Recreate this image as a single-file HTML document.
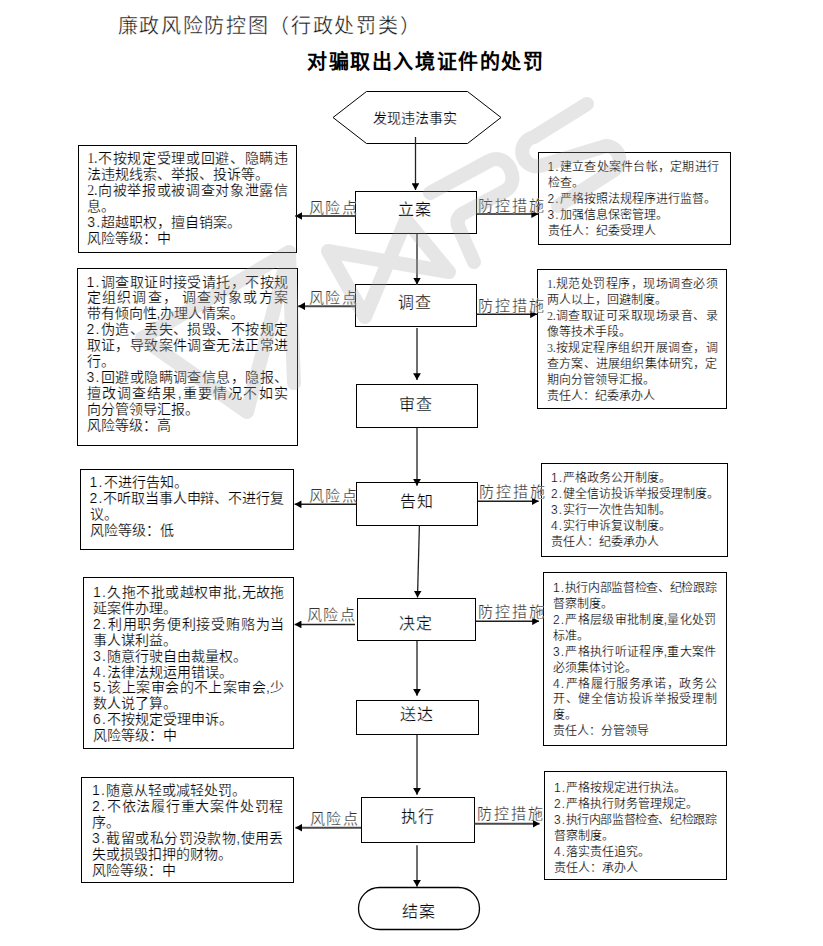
<!DOCTYPE html>
<html lang="zh-CN">
<head>
<meta charset="utf-8">
<style>
html,body{margin:0;padding:0;background:#fff;}
body{width:823px;height:946px;position:relative;overflow:hidden;font-family:"Liberation Sans",sans-serif;color:#000;}
.t{position:absolute;white-space:nowrap;}
.j{display:flex;justify-content:space-between;}
.j>span{min-width:0;}
.n{letter-spacing:0.083em;}
.nt{font-family:"Liberation Serif",serif;letter-spacing:-0.3px;}
.h1{left:117.5px;top:13.3px;font-size:20px;line-height:26px;letter-spacing:1.7px;color:#111;-webkit-text-stroke:0.35px #fff;}
.h2{left:307px;top:49px;font-size:20px;line-height:26px;font-weight:bold;letter-spacing:1.6px;}
.c{font-size:16px;line-height:20px;letter-spacing:1px;-webkit-text-stroke:0.25px #fff;}
.hx{font-size:14px;line-height:18px;-webkit-text-stroke:0.2px #fff;}
.L{font-size:14px;line-height:15.9px;-webkit-text-stroke:0.2px #fff;}
.R{font-size:12px;line-height:15.95px;-webkit-text-stroke:0.2px #fff;}
.lab{font-size:15px;line-height:18px;color:#333;letter-spacing:1.2px;-webkit-text-stroke:0.25px #fff;}
.lab.r{letter-spacing:1.9px;}
svg{position:absolute;left:0;top:0;}
</style>
</head>
<body>
<!-- MAIN -->
<svg width="823" height="946" viewBox="0 0 823 946">
<defs><marker id="ah" viewBox="0 0 7 8" refX="7" refY="4" markerWidth="7" markerHeight="7.8" markerUnits="userSpaceOnUse" orient="auto"><path d="M0,0 L7,4 L0,8 z" fill="#000"/></marker></defs>
<g fill="none" stroke="#000" stroke-width="1">
<polygon points="333,117.5 366.5,91.5 467.5,91.5 501,117.5 467.5,143.5 366.5,143.5"/>
<rect x="355.5" y="191.5" width="121" height="42"/>
<rect x="355.5" y="284.5" width="121" height="42"/>
<rect x="356.5" y="384.5" width="121" height="43"/>
<rect x="356.5" y="482.5" width="121" height="43"/>
<rect x="357.5" y="598.5" width="118" height="42"/>
<rect x="356.5" y="700.5" width="122" height="34"/>
<rect x="361.5" y="797.5" width="113" height="45"/>
<rect x="78.5" y="145.5" width="218" height="107"/>
<rect x="77.5" y="268.5" width="220" height="177"/>
<rect x="80.5" y="469.5" width="213" height="80"/>
<rect x="83.5" y="577.5" width="210" height="171"/>
<rect x="81.5" y="777.5" width="212" height="105"/>
<rect x="538.5" y="152.5" width="192" height="92"/>
<rect x="537.5" y="269.5" width="189" height="139"/>
<rect x="541.5" y="463.5" width="186" height="93"/>
<rect x="543.5" y="572.5" width="183" height="173"/>
<rect x="544.5" y="771.5" width="182" height="108"/>
<rect x="358.5" y="887.5" width="121" height="42" rx="21" ry="21" stroke-width="1.3"/>
</g>
<g fill="none">
<line x1="415.5" y1="137" x2="415.5" y2="190" stroke="#222" stroke-width="1.3" marker-end="url(#ah)"/>
<line x1="417" y1="234" x2="417" y2="284.5" stroke="#6e6e6e" stroke-width="2" marker-end="url(#ah)"/>
<line x1="417" y1="328" x2="417" y2="380" stroke="#6e6e6e" stroke-width="2" marker-end="url(#ah)"/>
<line x1="417" y1="428" x2="417" y2="485.8" stroke="#6e6e6e" stroke-width="2" marker-end="url(#ah)"/>
<line x1="419.4" y1="525" x2="417.5" y2="597.6" stroke="#222" stroke-width="1.3" marker-end="url(#ah)"/>
<line x1="417" y1="641" x2="417" y2="695.8" stroke="#6e6e6e" stroke-width="2" marker-end="url(#ah)"/>
<line x1="417" y1="735" x2="417" y2="794.8" stroke="#6e6e6e" stroke-width="2" marker-end="url(#ah)"/>
<line x1="417" y1="845.3" x2="417" y2="886.8" stroke="#6e6e6e" stroke-width="2" marker-end="url(#ah)"/>
<line x1="355.5" y1="216" x2="295.3" y2="216" stroke="#484848" stroke-width="2" marker-end="url(#ah)"/>
<line x1="355.5" y1="306.2" x2="298.2" y2="306.2" stroke="#484848" stroke-width="2" marker-end="url(#ah)"/>
<line x1="356.5" y1="504.3" x2="294.6" y2="504.3" stroke="#1e1e1e" stroke-width="1.5" marker-end="url(#ah)"/>
<line x1="355" y1="624.4" x2="294.6" y2="624.4" stroke="#1e1e1e" stroke-width="1.5" marker-end="url(#ah)"/>
<line x1="361" y1="827.7" x2="295.4" y2="827.7" stroke="#484848" stroke-width="2" marker-end="url(#ah)"/>
<line x1="476.5" y1="214.1" x2="538.2" y2="214.1" stroke="#1e1e1e" stroke-width="1.5" marker-end="url(#ah)"/>
<line x1="476.5" y1="314.3" x2="537" y2="314.3" stroke="#1e1e1e" stroke-width="1.5" marker-end="url(#ah)"/>
<line x1="477.5" y1="501.2" x2="538.6" y2="501.2" stroke="#1e1e1e" stroke-width="1.5" marker-end="url(#ah)"/>
<line x1="475.5" y1="621.2" x2="539" y2="621.2" stroke="#1e1e1e" stroke-width="1.5" marker-end="url(#ah)"/>
<line x1="474.5" y1="823.8" x2="539.6" y2="823.8" stroke="#484848" stroke-width="2" marker-end="url(#ah)"/>
</g>
</svg>
<!-- /MAIN -->

<div class="t h1">廉政风险防控图（行政处罚类）</div>
<div class="t h2">对骗取出入境证件的处罚</div>

<div class="t hx" style="left:372.5px;top:109px;">发现违法事实</div>
<div class="t c" style="left:397.5px;top:200px;">立案</div>
<div class="t c" style="left:397.5px;top:292.5px;">调查</div>
<div class="t c" style="left:398.5px;top:394.5px;">审查</div>
<div class="t c" style="left:399.5px;top:491.5px;">告知</div>
<div class="t c" style="left:398.5px;top:613.5px;">决定</div>
<div class="t c" style="left:399.5px;top:704.5px;">送达</div>
<div class="t c" style="left:400.5px;top:806.5px;">执行</div>
<div class="t c" style="left:401.5px;top:901.5px;">结案</div>

<!-- labels -->
<div class="t lab" style="left:309.2px;top:198.7px;">风险点</div>
<div class="t lab" style="left:309.2px;top:288.7px;">风险点</div>
<div class="t lab" style="left:309.2px;top:487px;">风险点</div>
<div class="t lab" style="left:307.2px;top:606px;">风险点</div>
<div class="t lab" style="left:310.2px;top:810px;">风险点</div>
<div class="t lab r" style="left:478px;top:196.7px;">防控措施</div>
<div class="t lab r" style="left:478px;top:296.7px;">防控措施</div>
<div class="t lab r" style="left:479px;top:483px;">防控措施</div>
<div class="t lab r" style="left:478px;top:603px;">防控措施</div>
<div class="t lab r" style="left:477px;top:805px;">防控措施</div>

<!-- TEXTS -->
<div class="t L" style="left:87.3px;top:151px;width:200.7px;">
<div class="j"><span class="nt">1.</span><span>不</span><span>按</span><span>规</span><span>定</span><span>受</span><span>理</span><span>或</span><span>回</span><span>避</span><span>、</span><span>隐</span><span>瞒</span><span>违</span></div>
<div>法违规线索、举报、投诉等。</div>
<div class="j"><span class="nt">2.</span><span>向</span><span>被</span><span>举</span><span>报</span><span>或</span><span>被</span><span>调</span><span>查</span><span>对</span><span>象</span><span>泄</span><span>露</span><span>信</span></div>
<div>息。</div>
<div><span class="n">3.</span>超越职权，擅自销案。</div>
<div>风险等级：中</div>
</div>
<div class="t L" style="left:86.5px;top:274.5px;width:201.5px;">
<div class="j"><span class="n">1.</span><span>调</span><span>查</span><span>取</span><span>证</span><span>时</span><span>接</span><span>受</span><span>请</span><span>托</span><span>，</span><span>不</span><span>按</span><span>规</span></div>
<div class="j"><span>定</span><span>组</span><span>织</span><span>调</span><span>查</span><span>，&nbsp;</span><span>调</span><span>查</span><span>对</span><span>象</span><span>或</span><span>方</span><span>案</span></div>
<div>带有倾向性,办理人情案。</div>
<div class="j"><span class="n">2.</span><span>伪</span><span>造</span><span>、</span><span>丢</span><span>失</span><span>、</span><span>损</span><span>毁</span><span>、</span><span>不</span><span>按</span><span>规</span><span>定</span></div>
<div class="j"><span>取</span><span>证</span><span>，</span><span>导</span><span>致</span><span>案</span><span>件</span><span>调</span><span>查</span><span>无</span><span>法</span><span>正</span><span>常</span><span>进</span></div>
<div>行。</div>
<div class="j"><span class="n">3.</span><span>回</span><span>避</span><span>或</span><span>隐</span><span>瞒</span><span>调</span><span>查</span><span>信</span><span>息</span><span>，</span><span>隐</span><span>报</span><span>、</span></div>
<div class="j"><span>擅</span><span>改</span><span>调</span><span>查</span><span>结</span><span>果</span><span>,</span><span>重</span><span>要</span><span>情</span><span>况</span><span>不</span><span>如</span><span>实</span></div>
<div>向分管领导汇报。</div>
<div>风险等级：高</div>
</div>
<div class="t L" style="left:89.5px;top:475px;width:194px;">
<div><span class="n">1.</span>不进行告知。</div>
<div class="j"><span class="n">2.</span><span>不</span><span>听</span><span>取</span><span>当</span><span>事</span><span>人</span><span>申</span><span>辩</span><span>、</span><span>不</span><span>进</span><span>行</span><span>复</span></div>
<div>议。</div>
<div>风险等级：低</div>
</div>
<div class="t L" style="left:93px;top:585px;width:191.5px;">
<div class="j"><span class="n">1.</span><span>久</span><span>拖</span><span>不</span><span>批</span><span>或</span><span>越</span><span>权</span><span>审</span><span>批</span><span>,</span><span>无</span><span>故</span><span>拖</span></div>
<div>延案件办理。</div>
<div class="j"><span class="n">2.</span><span>利</span><span>用</span><span>职</span><span>务</span><span>便</span><span>利</span><span>接</span><span>受</span><span>贿</span><span>赂</span><span>为</span><span>当</span></div>
<div>事人谋利益。</div>
<div><span class="n">3.</span>随意行驶自由裁量权。</div>
<div><span class="n">4.</span>法律法规运用错误。</div>
<div class="j"><span class="n">5.</span><span>该</span><span>上</span><span>案</span><span>审</span><span>会</span><span>的</span><span>不</span><span>上</span><span>案</span><span>审</span><span>会</span><span>,</span><span>少</span></div>
<div>数人说了算。</div>
<div><span class="n">6.</span>不按规定受理申诉。</div>
<div>风险等级：中</div>
</div>
<div class="t L" style="left:92px;top:783px;width:191.5px;">
<div><span class="n">1.</span>随意从轻或减轻处罚。</div>
<div class="j"><span class="n">2.</span><span>不</span><span>依</span><span>法</span><span>履</span><span>行</span><span>重</span><span>大</span><span>案</span><span>件</span><span>处</span><span>罚</span><span>程</span></div>
<div>序。</div>
<div class="j"><span class="n">3.</span><span>截</span><span>留</span><span>或</span><span>私</span><span>分</span><span>罚</span><span>没</span><span>款</span><span>物</span><span>,</span><span>使</span><span>用</span><span>丢</span></div>
<div>失或损毁扣押的财物。</div>
<div>风险等级：中</div>
</div>
<div class="t R" style="left:547.5px;top:160px;width:171.5px;">
<div class="j"><span class="n">1.</span><span>建</span><span>立</span><span>查</span><span>处</span><span>案</span><span>件</span><span>台</span><span>帐</span><span>，</span><span>定</span><span>期</span><span>进</span><span>行</span></div>
<div>检查。</div>
<div><span class="n">2.</span>严格按照法规程序进行监督。</div>
<div><span class="n">3.</span>加强信息保密管理。</div>
<div>责任人：纪委受理人</div>
</div>
<div class="t R" style="left:547px;top:277.3px;width:170.5px;">
<div class="j"><span class="nt">1.</span><span>规</span><span>范</span><span>处</span><span>罚</span><span>程</span><span>序</span><span>，</span><span>现</span><span>场</span><span>调</span><span>查</span><span>必</span><span>须</span></div>
<div>两人以上，回避制度。</div>
<div class="j"><span class="nt">2.</span><span>调</span><span>查</span><span>取</span><span>证</span><span>可</span><span>采</span><span>取</span><span>现</span><span>场</span><span>录</span><span>音</span><span>、</span><span>录</span></div>
<div>像等技术手段。</div>
<div class="j"><span class="nt">3.</span><span>按</span><span>规</span><span>定</span><span>程</span><span>序</span><span>组</span><span>织</span><span>开</span><span>展</span><span>调</span><span>查</span><span>，</span><span>调</span></div>
<div class="j"><span>查</span><span>方</span><span>案</span><span>、</span><span>进</span><span>展</span><span>组</span><span>织</span><span>集</span><span>体</span><span>研</span><span>究</span><span>，</span><span>定</span></div>
<div>期向分管领导汇报。</div>
<div>责任人：纪委承办人</div>
</div>
<div class="t R" style="left:551px;top:471px;width:166.5px;">
<div><span class="n">1.</span>严格政务公开制度。</div>
<div><span class="n">2.</span>健全信访投诉举报受理制度。</div>
<div><span class="n">3.</span>实行一次性告知制。</div>
<div><span class="n">4.</span>实行申诉复议制度。</div>
<div>责任人：纪委承办人</div>
</div>
<div class="t R" style="left:553px;top:580.8px;width:163.5px;">
<div class="j"><span class="n">1.</span><span>执</span><span>行</span><span>内</span><span>部</span><span>监</span><span>督</span><span>检</span><span>查</span><span>、</span><span>纪</span><span>检</span><span>跟</span><span>踪</span></div>
<div>督察制度。</div>
<div class="j"><span class="n">2.</span><span>严</span><span>格</span><span>层</span><span>级</span><span>审</span><span>批</span><span>制</span><span>度</span><span>,</span><span>量</span><span>化</span><span>处</span><span>罚</span></div>
<div>标准。</div>
<div class="j"><span class="n">3.</span><span>严</span><span>格</span><span>执</span><span>行</span><span>听</span><span>证</span><span>程</span><span>序</span><span>,</span><span>重</span><span>大</span><span>案</span><span>件</span></div>
<div>必须集体讨论。</div>
<div class="j"><span class="n">4.</span><span>严</span><span>格</span><span>履</span><span>行</span><span>服</span><span>务</span><span>承</span><span>诺</span><span>，</span><span>政</span><span>务</span><span>公</span></div>
<div class="j"><span>开</span><span>、</span><span>健</span><span>全</span><span>信</span><span>访</span><span>投</span><span>诉</span><span>举</span><span>报</span><span>受</span><span>理</span><span>制</span></div>
<div>度。</div>
<div>责任人：分管领导</div>
</div>
<div class="t R" style="left:554px;top:780.8px;width:162.5px;">
<div><span class="n">1.</span>严格按规定进行执法。</div>
<div><span class="n">2.</span>严格执行财务管理规定。</div>
<div class="j"><span class="n">3.</span><span>执</span><span>行</span><span>内</span><span>部</span><span>监</span><span>督</span><span>检</span><span>查</span><span>、</span><span>纪</span><span>检</span><span>跟</span><span>踪</span></div>
<div>督察制度。</div>
<div><span class="n">4.</span>落实责任追究。</div>
<div>责任人：承办人</div>
</div>

<!-- /TEXTS -->
<!-- WM -->
<svg class="wm" width="823" height="946" viewBox="0 0 823 946" style="position:absolute;left:0;top:0;">
<g fill="none" stroke="rgba(165,165,165,0.28)" stroke-width="14" stroke-linecap="round" stroke-linejoin="round">
<path d="M289,252 L142,338 L247,412 L289,252 L294,383"/>
<path d="M328,251 L365,317 L406,220 L449,272 Z"/>
<path d="M430,193 L489,161 C507,151 522,182 505,191 L462,214 Q455,219 459,228 L474,262"/>
<path d="M587,104 L534,137 A14.8,14.8 0 0 0 540,166 L606,146 A13.5,13.5 0 0 1 611,172 L558,206"/>
</g>
</svg>
<!-- /WM -->
</body>
</html>
